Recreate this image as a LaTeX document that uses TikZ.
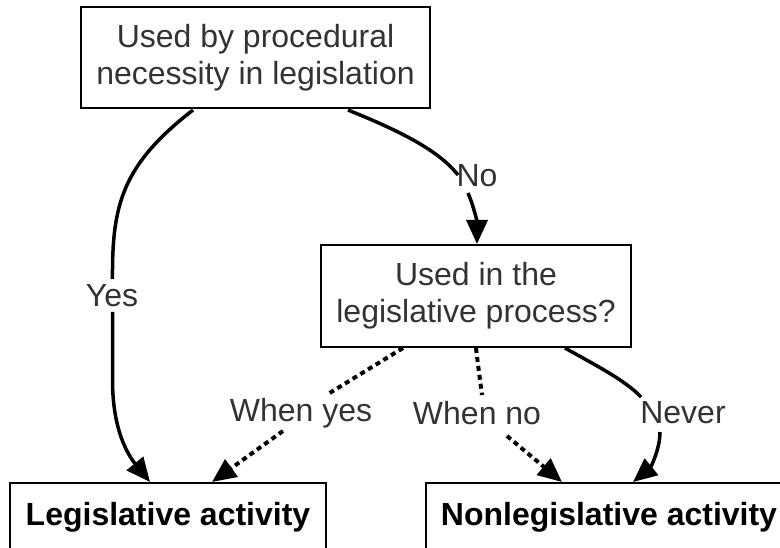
\documentclass[tikz,border=0pt]{standalone}
\usepackage{fontspec}
\setmainfont{Liberation Sans}
\usetikzlibrary{arrows.meta}
\definecolor{txt}{HTML}{333333}
\begin{document}
\begin{tikzpicture}[x=1pt,y=-1pt,
  box/.style={draw=black, line width=2pt, fill=white, inner sep=0pt, align=center,
    font=\fontsize{32}{37}\selectfont, text=txt},
  endbox/.style={box, font=\fontsize{32}{37}\selectfont\bfseries, text=black},
  lbl/.style={inner sep=1pt, font=\fontsize{32}{37}\selectfont, text=txt},
  seg/.style={line width=3.5pt},
  conn/.style={seg, -{Triangle[length=24pt,width=21pt]}},
  dots/.style={line width=4pt, dash pattern=on 5pt off 4pt}]
\useasboundingbox (0,0) rectangle (780,548);
\clip (0,0) rectangle (780,548);
\fill[white] (0,0) rectangle (780,548);

\node[box, minimum width=349pt, minimum height=101pt] (top) at (255.5,57.5)
  {Used by procedural\\necessity in legislation};
\node[box, minimum width=310pt, minimum height=102pt] (mid) at (476,296)
  {Used in the\\legislative process?};
\node[endbox, minimum width=316pt, minimum height=68pt] (leg) at (168,517)
  {Legislative activity};
\node[endbox, minimum width=366pt, minimum height=68pt] (non) at (609,517)
  {Nonlegislative activity};

% edge labels
\node[lbl] (yes) at (112,296) {Yes};
\node[lbl] (no) at (477,176) {No};
\node[lbl] (wy) at (301,413) {When yes};
\node[lbl] (wn) at (477,413) {When no};
\node[lbl] (nv) at (683,413) {Never};

% free ends of the broken connectors
\coordinate (yes1) at (112.5,279);
\coordinate (yes2) at (112.5,312);
\coordinate (no1) at (458,175);
\coordinate (no2) at (468,193);
\coordinate (wy1) at (328,394);
\coordinate (wy2) at (283,431);
\coordinate (wn1) at (482,395);
\coordinate (wn2) at (507,436);
\coordinate (nv1) at (641,397);
\coordinate (nv2) at (660,432);

% Yes
\draw[seg] ([xshift=-62.5pt,yshift=-1pt]top.south) .. controls (122,165) and (112,205) .. (yes1);
\draw[conn] (yes2) -- (112.5,380) .. controls (112.5,430) and (128,455) .. ([xshift=-18pt]leg.north);
% No
\draw[seg] ([xshift=92.5pt,yshift=-1pt]top.south) .. controls (405,133) and (440,152) .. (no1);
\draw[conn] (no2) .. controls (474,207) and (477,222) .. ([xshift=1pt]mid.north);
% When yes
\draw[dots] ([xshift=-73pt]mid.south) -- (wy1);
\draw[conn, dots] (wy2) -- ([xshift=44pt]leg.north);
% When no
\draw[dots] (mid.south) .. controls (478,365) and (480,380) .. (wn1);
\draw[conn, dots] (wn2) -- ([xshift=-47pt]non.north);
% Never
\draw[seg] ([xshift=89pt]mid.south) .. controls (595,365) and (625,380) .. (nv1);
\draw[conn] (nv2) .. controls (660,450) and (650,468) .. ([xshift=24pt]non.north);
\end{tikzpicture}
\end{document}
